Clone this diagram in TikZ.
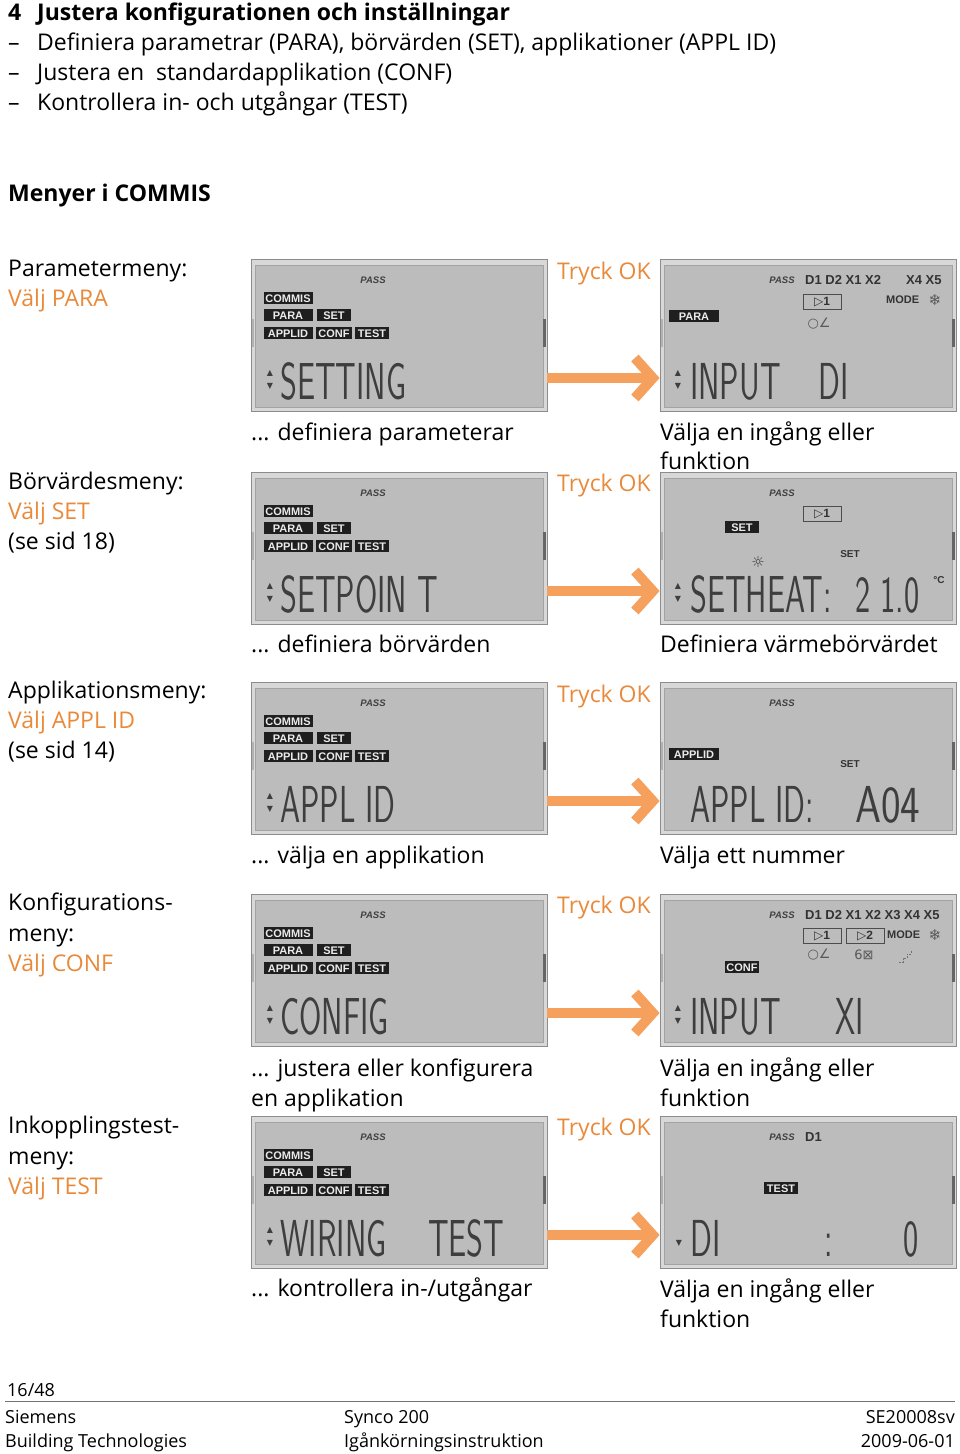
\documentclass[tikz,border=0pt]{standalone}
\usepackage{fontspec}
\usepackage{graphicx}
\usepackage{tikz}
\usetikzlibrary{arrows.meta}
\setmainfont{Open Sans}
\newfontfamily\lcdfont{Liberation Sans}
\newfontfamily\symfont{DejaVu Sans}

\definecolor{okorange}{RGB}{233,137,58}
\definecolor{arroworange}{RGB}{246,160,94}
\definecolor{lcdgray}{RGB}{188,188,188}
\definecolor{lcdrim}{RGB}{216,216,216}
\definecolor{lcdedge}{RGB}{140,140,140}
\definecolor{segink}{RGB}{62,62,62}

\newcommand{\bodyfont}{\fontsize{23}{30}\selectfont}
\newcommand{\segfont}{\fontsize{52}{52}\selectfont\sffamily}
\newcommand{\sg}[1]{\scalebox{0.62}[1]{#1}}

\tikzset{
  body/.style={font=\bodyfont, anchor=base west, inner sep=0pt},
  oktext/.style={body, text=okorange},
  foot/.style={font=\fontsize{18}{24}\selectfont, anchor=base west, inner sep=0pt},
  lcd/.style={draw=lcdedge, fill=lcdrim, line width=0.8pt, minimum width=296pt,
    minimum height=152pt, inner sep=0pt,
    path picture={
      \fill[lcdgray, draw=lcdedge!80, line width=0.8pt]
        ([shift={(4pt,-6pt)}]path picture bounding box.north west) rectangle
        ([shift={(-4pt,4pt)}]path picture bounding box.south east);
      \fill[black!60] ([shift={(-4pt,-60pt)}]path picture bounding box.north east)
        rectangle ([shift={(-1pt,-88pt)}]path picture bounding box.north east);
      \fill[black!30] ([shift={(1pt,-60pt)}]path picture bounding box.north west)
        rectangle ([shift={(3pt,-88pt)}]path picture bounding box.north west);
    }},
  tag/.style={fill=black!88, text=white!92!black, inner sep=0pt,
    font=\lcdfont\bfseries\fontsize{11}{11}\selectfont,
    minimum height=12pt, text height=8pt, text depth=0pt},
  pass/.style={font=\lcdfont\bfseries\itshape\fontsize{9.5}{9.5}\selectfont,
    text=black!75, inner sep=0pt},
  lcdlbl/.style={font=\lcdfont\bfseries\fontsize{13}{13}\selectfont,
    text=black!80, inner sep=0pt, anchor=west},
  small/.style={font=\lcdfont\bfseries\fontsize{10}{10}\selectfont,
    text=black!80, inner sep=0pt},
  icon/.style={font=\symfont\fontsize{13}{13}\selectfont, text=black!65, inner sep=0pt},
  inbox/.style={draw=black!70, line width=0.7pt, minimum width=38pt, minimum height=15pt,
    inner sep=0pt, font=\lcdfont\bfseries\fontsize{12}{12}\selectfont, text=black!80},
  updown/.style={font=\symfont\fontsize{8}{13}\selectfont, align=center,
    inner sep=0pt, text=segink},
  seg/.style={font=\segfont, text=segink, inner sep=0pt, anchor=base west},
  okarrow/.style={draw=arroworange, line width=10pt,
    -{Straight Barb[length=18pt,width=40pt]}}
}

% tags of the COMMIS screen: #1 name prefix, #2 left x, #3 top y
\newcommand{\commistags}[3]{%
  \node[pass] (#1pass) at (#2+122,#3+21) {PASS};
  \node[tag,minimum width=49pt] (#1commis) at (#2+37,#3+39) {COMMIS};
  \node[tag,minimum width=49pt] (#1para) at (#2+37,#3+56) {PARA};
  \node[tag,minimum width=34pt] (#1set) at (#2+83,#3+56) {SET};
  \node[tag,minimum width=49pt] (#1applid) at (#2+37,#3+74) {APPLID};
  \node[tag,minimum width=36pt] (#1conf) at (#2+83,#3+74) {CONF};
  \node[tag,minimum width=34pt] (#1test) at (#2+121,#3+74) {TEST};
  \node[updown] (#1ud) at (#2+19,#3+121) {▲\\▼};
}

\begin{document}
\begin{tikzpicture}[x=1pt,y=-1pt]
\useasboundingbox (0,0) rectangle (960,1454);

%heading
\node[body,font=\bodyfont\bfseries] (secnum) at (8,20) {4};
\node[body,font=\bodyfont\bfseries] (title) at (37,20) {Justera konfigurationen och inställningar};
\node[body] (dash1) at (8,50) {–};
\node[body] (item1) at (37,50) {Definiera parametrar (PARA), börvärden (SET), applikationer (APPL ID)};
\node[body] (dash2) at (8,80) {–};
\node[body] (item2) at (37,80) {Justera en~ standardapplikation (CONF)};
\node[body] (dash3) at (8,110) {–};
\node[body] (item3) at (37,110) {Kontrollera in- och utgångar (TEST)};
\node[body,font=\bodyfont\bfseries] (menus) at (8,201) {Menyer i COMMIS};

%row 1
\node[body] (rowa) at (8,276) {Parametermeny:};
\node[oktext] (rowasel) at (8,306) {Välj PARA};
\node[lcd] (left1) at (399,335) {};
\node[lcd] (right1) at (808,335) {};
\draw[okarrow] ([yshift=-43pt]left1.east) to ([yshift=-43pt]right1.west);
\node[oktext] (ok1) at (557,279) {Tryck OK};
\commistags{la}{251}{259}
\node[seg] (la txt) at (280,399) {\sg{SETTING}};
\node[pass] (ra pass) at (782,280) {PASS};
\node[lcdlbl] (ra chan) at (805,280) {D1 D2 X1 X2};
\node[lcdlbl] (ra chanb) at (906,280) {X4 X5};
\node[inbox] (ra box) at (822,302) {{\symfont ▷}1};
\node[lcdlbl,font=\lcdfont\bfseries\fontsize{11}{11}\selectfont] (ra mode) at (886,300) {MODE};
\node[icon,font=\symfont\fontsize{15}{15}\selectfont] (ra fan) at (935,300) {❄};
\node[icon] (ra sym) at (819,324) {○∠};
\node[tag,minimum width=50pt] (ra para) at (694,316) {PARA};
\node[updown] (ra ud) at (678,380) {▲\\▼};
\node[seg] (ra txt) at (690,399) {\sg{INPUT}};
\node[seg] (ra val) at (818,399) {\sg{DI}};
\node[body] (capla) at (251,440) {... definiera parameterar};
\node[body] (capra) at (660,440) {Välja en ingång eller};
\node[body] (capra2) at (660,469) {funktion};

%row 2
\node[body] (rowb) at (8,489) {Börvärdesmeny:};
\node[oktext] (rowbsel) at (8,519) {Välj SET};
\node[body] (rowbref) at (8,549) {(se sid 18)};
\node[lcd] (left2) at (399,548) {};
\node[lcd] (right2) at (808,548) {};
\draw[okarrow] ([yshift=-43pt]left2.east) to ([yshift=-43pt]right2.west);
\node[oktext] (ok2) at (557,491) {Tryck OK};
\commistags{lb}{251}{472}
\node[seg] (lb txt) at (280,612) {\sg{SETPOIN T}};
\node[pass] (rb pass) at (782,493) {PASS};
\node[inbox] (rb box) at (822,514) {{\symfont ▷}1};
\node[tag,minimum width=34pt] (rb set) at (742,527) {SET};
\node[small] (rb setlbl) at (850,554) {SET};
\node[icon,font=\symfont\fontsize{15}{15}\selectfont,text=black!75] (rb sun) at (758,562) {☼};
\node[updown] (rb ud) at (678,593) {▲\\▼};
\node[seg] (rb txt) at (690,612) {\sg{SETHEAT:}};
\node[seg] (rb val) at (855,612) {\sg{2 1.0}};
\node[small] (rb unit) at (939,580) {°C};
\node[body] (caplb) at (251,652) {... definiera börvärden};
\node[body] (caprb) at (660,652) {Definiera värmebörvärdet};

%row 3
\node[body] (rowc) at (8,698) {Applikationsmeny:};
\node[oktext] (rowcsel) at (8,728) {Välj APPL ID};
\node[body] (rowcref) at (8,758) {(se sid 14)};
\node[lcd] (left3) at (399,758) {};
\node[lcd] (right3) at (808,758) {};
\draw[okarrow] ([yshift=-43pt]left3.east) to ([yshift=-43pt]right3.west);
\node[oktext] (ok3) at (557,702) {Tryck OK};
\commistags{lc}{251}{682}
\node[seg] (lc txt) at (280,822) {\sg{APPL ID}};
\node[pass] (rc pass) at (782,703) {PASS};
\node[tag,minimum width=50pt] (rc applid) at (694,754) {APPLID};
\node[small] (rc setlbl) at (850,764) {SET};
\node[seg] (rc txt) at (690,822) {\sg{APPL ID:}};
\node[seg] (rc val) at (855,822) {\scalebox{0.8}[1]{A04}};
\node[body] (caplc) at (251,863) {... välja en applikation};
\node[body] (caprc) at (660,863) {Välja ett nummer};

%row 4
\node[body] (rowd) at (8,910) {Konfigurations-};
\node[body] (rowd2) at (8,941) {meny:};
\node[oktext] (rowdsel) at (8,971) {Välj CONF};
\node[lcd] (left4) at (399,970) {};
\node[lcd] (right4) at (808,970) {};
\draw[okarrow] ([yshift=-43pt]left4.east) to ([yshift=-43pt]right4.west);
\node[oktext] (ok4) at (557,913) {Tryck OK};
\commistags{ld}{251}{894}
\node[seg] (ld txt) at (280,1034) {\sg{CONFIG}};
\node[pass] (rd pass) at (782,915) {PASS};
\node[lcdlbl] (rd chan) at (805,915) {D1 D2 X1 X2 X3 X4 X5};
\node[inbox] (rd box) at (822,936) {{\symfont ▷}1};
\node[inbox] (rd boxb) at (865,936) {{\symfont ▷}2};
\node[lcdlbl,font=\lcdfont\bfseries\fontsize{11}{11}\selectfont] (rd mode) at (887,935) {MODE};
\node[icon,font=\symfont\fontsize{15}{15}\selectfont] (rd fan) at (935,935) {❄};
\node[icon] (rd sym) at (819,955) {○∠};
\node[icon] (rd symb) at (864,955) {6⊠};
\draw[black!55, line width=1pt, dash pattern=on 2pt off 1pt] (899,962) -- (903,962) -- (903,958) -- (907,958) -- (907,954) -- (911,954) -- (911,950);
\node[tag,minimum width=34pt] (rd conf) at (742,967) {CONF};
\node[updown] (rd ud) at (678,1015) {▲\\▼};
\node[seg] (rd txt) at (690,1034) {\sg{INPUT}};
\node[seg] (rd val) at (835,1034) {\sg{XI}};
\node[body] (capld) at (251,1076) {... justera eller konfigurera};
\node[body] (capld2) at (251,1106) {en applikation};
\node[body] (caprd) at (660,1076) {Välja en ingång eller};
\node[body] (caprd2) at (660,1106) {funktion};

%row 5
\node[body] (rowe) at (8,1133) {Inkopplingstest-};
\node[body] (rowe2) at (8,1164) {meny:};
\node[oktext] (rowesel) at (8,1194) {Välj TEST};
\node[lcd] (left5) at (399,1192) {};
\node[lcd] (right5) at (808,1192) {};
\draw[okarrow] ([yshift=-43pt]left5.east) to ([yshift=-43pt]right5.west);
\node[oktext] (ok5) at (557,1135) {Tryck OK};
\commistags{le}{251}{1116}
\node[seg] (le txt) at (280,1256) {\sg{WIRING}};
\node[seg] (le txtb) at (428,1256) {\sg{TEST}};
\node[pass] (re pass) at (782,1137) {PASS};
\node[lcdlbl] (re chan) at (805,1137) {D1};
\node[tag,minimum width=34pt] (re test) at (781,1188) {TEST};
\node[updown] (re ud) at (679,1243) {▼};
\node[seg] (re txt) at (690,1256) {\sg{DI}};
\node[seg] (re colon) at (824,1256) {\sg{:}};
\node[seg] (re val) at (903,1256) {\sg{0}};
\node[body] (caple) at (251,1296) {... kontrollera in-/utgångar};
\node[body] (capre) at (660,1297) {Välja en ingång eller};
\node[body] (capre2) at (660,1327) {funktion};

%footer
\node[foot] (page) at (7,1396) {16/48};
\draw[black!55, line width=0.8pt] (5,1401) -- (955,1401);
\node[foot] (firm) at (5,1423) {Siemens};
\node[foot] (firm2) at (5,1447) {Building Technologies};
\node[foot] (prod) at (344,1423) {Synco 200};
\node[foot] (prod2) at (344,1447) {Igånkörningsinstruktion};
\node[foot,anchor=base east] (docno) at (955,1423) {SE20008sv};
\node[foot,anchor=base east] (date) at (955,1447) {2009-06-01};
\end{tikzpicture}
\end{document}
